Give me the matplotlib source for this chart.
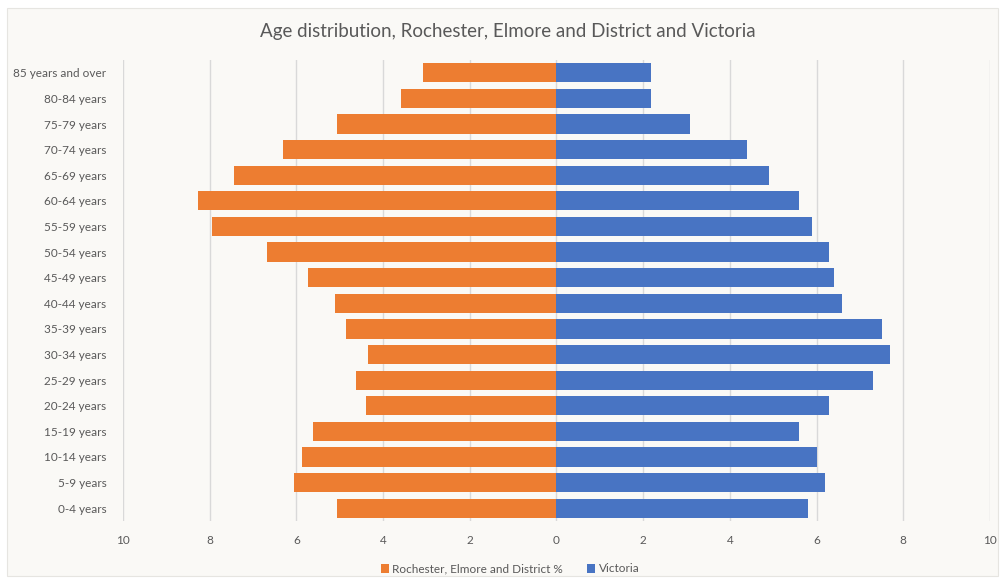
import matplotlib.pyplot as plt
from matplotlib.patches import Rectangle
from matplotlib.ticker import FuncFormatter

plt.rcParams['font.family'] = ['Lato', 'DejaVu Sans']

# Age groups, youngest first (drawn bottom to top)
ages = ['0-4 years', '5-9 years', '10-14 years', '15-19 years', '20-24 years',
        '25-29 years', '30-34 years', '35-39 years', '40-44 years', '45-49 years',
        '50-54 years', '55-59 years', '60-64 years', '65-69 years', '70-74 years',
        '75-79 years', '80-84 years', '85 years and over']
rochester = [5.06, 6.05, 5.87, 5.62, 4.40, 4.63, 4.35, 4.86, 5.10, 5.74,
             6.67, 7.94, 8.28, 7.43, 6.30, 5.06, 3.58, 3.08]
victoria = [5.80, 6.20, 6.00, 5.60, 6.28, 7.30, 7.70, 7.50, 6.59, 6.40,
            6.28, 5.89, 5.60, 4.90, 4.39, 3.09, 2.18, 2.18]

orange = '#ED7D31'
blue = '#4874C3'
grey = '#595959'
bg = '#FAF9F6'

fig = plt.figure(figsize=(10.03, 5.79), dpi=100, facecolor='white')
# chart panel behind everything
fig.patches.append(Rectangle((7 / 1003, 1 - 576 / 579), 991 / 1003, 568 / 579,
                             transform=fig.transFigure, facecolor=bg,
                             edgecolor='#E6E5E1', linewidth=0.8, zorder=-10))

ax = fig.add_axes([123 / 1003, 1 - 521 / 579, 867 / 1003, 461 / 579])
ax.set_facecolor('none')

y = range(len(ages))
ax.barh(y, [-v for v in rochester], height=0.75, color=orange,
        label='Rochester, Elmore and District %', zorder=3)
ax.barh(y, victoria, height=0.75, color=blue, label='Victoria', zorder=3)

ax.set_xlim(-10, 10)
ax.set_ylim(-0.5, len(ages) - 0.5)
ax.set_xticks(range(-10, 11, 2))
ax.xaxis.set_major_formatter(FuncFormatter(lambda v, p: f'{abs(int(v))}'))
ax.set_yticks(list(y))
ax.set_yticklabels(ages)
ax.grid(axis='x', color='#D9D9D9', linewidth=1, zorder=0)
for s in ax.spines.values():
    s.set_visible(False)
ax.tick_params(axis='both', length=0, colors=grey, labelsize=8.5)
ax.tick_params(axis='x', pad=10)
ax.tick_params(axis='y', pad=12)

fig.text(508 / 1003, 1 - 32 / 579,
         'Age distribution, Rochester, Elmore and District and Victoria',
         ha='center', va='center', fontsize=13.5, color=grey)

fig.legend(loc='center', bbox_to_anchor=(510 / 1003, 1 - 569 / 579), ncol=2,
           frameon=False, fontsize=8.5, labelcolor=grey, handlelength=0.7,
           handleheight=0.7, handletextpad=0.3, columnspacing=2.0)

fig.savefig('out.png', dpi=100, facecolor='white')
